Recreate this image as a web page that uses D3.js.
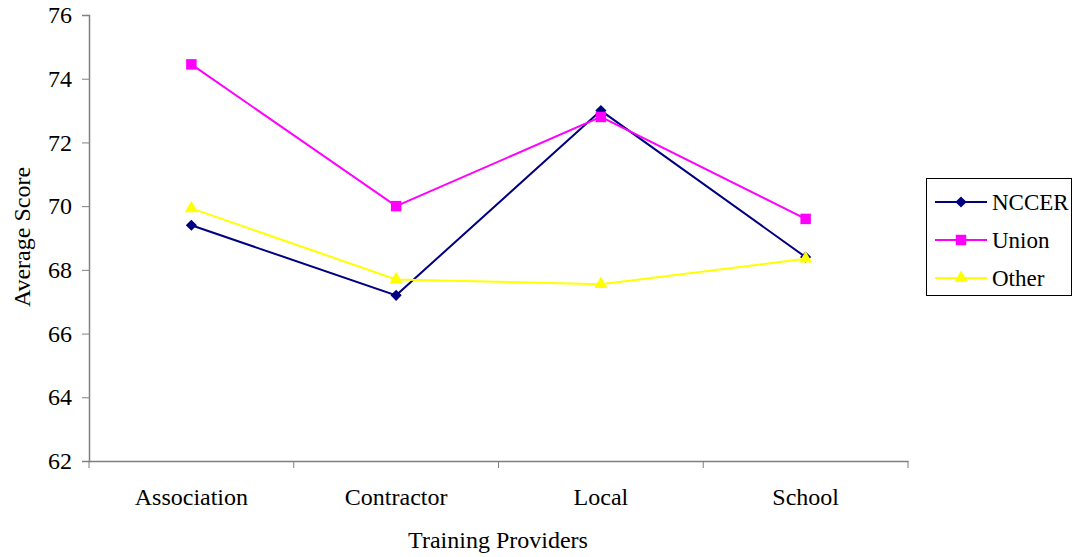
<!DOCTYPE html>
<html><head><meta charset="utf-8">
<script src="https://cdn.jsdelivr.net/npm/d3@7"></script>
<style>body{margin:0;background:#fff}svg{display:block}text{font-family:"Liberation Serif","Times New Roman",serif;fill:#000}</style>
</head><body>
<svg id="c" width="1077" height="557"></svg>
<script>
const categories = ["Association","Contractor","Local","School"];
const seriesNames = ["NCCER","Union","Other"];
const nccer = [69.4, 67.2, 73.0, 68.4];
const union = [74.45, 70.0, 72.8, 69.6];
const other = [69.93, 67.7, 67.55, 68.35];
const yTicks = [62,64,66,68,70,72,74,76];
const colors = ["#000080","#FF00FF","#FFFF00"];
const symbols = [d3.symbolSquare, d3.symbolSquare, d3.symbolTriangle];
const symRot = [45, 0, 0];
const symSizes = [62, 110, 75];
const data = [nccer, union, other];

const svg = d3.select("#c");
const L = 89, R = 908, T = 15, B = 461;
const x = d3.scaleBand().domain(categories).range([L, R]);
const y = d3.scaleLinear().domain([62, 76]).range([B, T]);

// y axis
const ya = svg.append("g").attr("transform", `translate(${L},0)`)
  .call(d3.axisLeft(y).tickValues(yTicks).tickSize(7).tickPadding(10).tickFormat(d3.format("d")));
ya.attr("font-family", null);
ya.select(".domain").attr("stroke", "#808080").attr("stroke-width", 1.5);
ya.selectAll(".tick line").attr("stroke", "#808080");
ya.selectAll(".tick text").style("font-size", "24px");

// x axis
const xa = svg.append("g").attr("transform", `translate(0,${B})`)
  .call(d3.axisBottom(x).tickSize(0).tickPadding(27));
xa.attr("font-family", null);
xa.select(".domain").attr("stroke", "#808080").attr("stroke-width", 1.5);
xa.selectAll(".tick text").style("font-size", "24px");
// category boundary ticks
const bounds = categories.map(c => x(c)).concat([R]);
svg.append("g").selectAll("line").data(bounds).join("line")
  .attr("x1", d => d).attr("x2", d => d).attr("y1", B).attr("y2", B + 7)
  .attr("stroke", "#808080");

// titles
svg.append("text").attr("x", 498).attr("y", 548).attr("text-anchor", "middle")
  .style("font-size", "24px").text("Training Providers");
svg.append("text").attr("transform", "translate(30,237) rotate(-90)").attr("text-anchor", "middle")
  .style("font-size", "24px").text("Average Score");

const cx = c => x(c) + x.bandwidth() / 2;
const line = d3.line().x((d, i) => cx(categories[i])).y(d => y(d));

data.forEach((vals, si) => {
  const g = svg.append("g");
  g.append("path").datum(vals).attr("d", line).attr("fill", "none")
    .attr("stroke", colors[si]).attr("stroke-width", 2);
  g.selectAll("path.m").data(vals).join("path").attr("class", "m")
    .attr("d", d3.symbol().type(symbols[si]).size(symSizes[si]))
    .attr("transform", (d, i) => `translate(${cx(categories[i])},${y(d)}) rotate(${symRot[si]})`)
    .attr("fill", colors[si]);
});

// legend
const lg = svg.append("g");
lg.append("rect").attr("x", 926.5).attr("y", 178.5).attr("width", 145).attr("height", 117)
  .attr("fill", "#fff").attr("stroke", "#000").attr("stroke-width", 1);
const ly = [202, 240, 278];
seriesNames.forEach((n, i) => {
  lg.append("line").attr("x1", 935).attr("x2", 987).attr("y1", ly[i]).attr("y2", ly[i])
    .attr("stroke", colors[i]).attr("stroke-width", 2);
  lg.append("path").attr("d", d3.symbol().type(symbols[i]).size(symSizes[i]))
    .attr("transform", `translate(961,${ly[i]}) rotate(${symRot[i]})`).attr("fill", colors[i]);
  lg.append("text").attr("x", 992).attr("y", ly[i] + 8).style("font-size", "23px").text(n);
});
</script>
</body></html>
